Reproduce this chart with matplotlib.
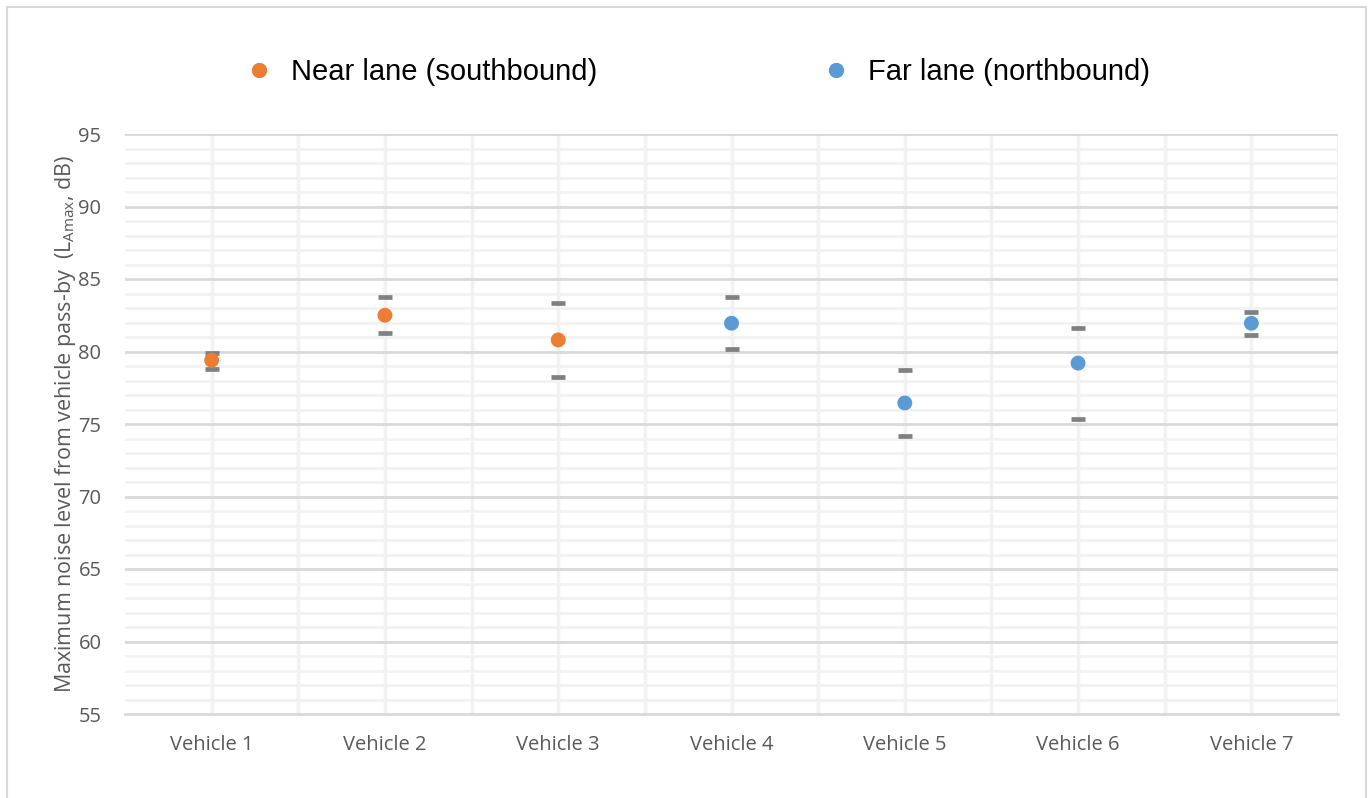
import matplotlib
matplotlib.use("Agg")
import matplotlib.pyplot as plt
from matplotlib.patches import Rectangle
from matplotlib.lines import Line2D
import numpy as np

# Pass-by noise levels (LAmax, dB) per vehicle, with min/max range caps
vehicles = ["Vehicle 1", "Vehicle 2", "Vehicle 3", "Vehicle 4",
            "Vehicle 5", "Vehicle 6", "Vehicle 7"]
lane = ["near", "near", "near", "far", "far", "far", "far"]
mean_level = [79.4, 82.5, 80.8, 81.95, 76.45, 79.2, 81.95]
upper_level = [79.9, 83.75, 83.35, 83.75, 78.75, 81.6, 82.7]
lower_level = [78.8, 81.3, 78.25, 80.15, 74.15, 75.35, 81.15]

legend_labels = ["Near lane (southbound)", "Far lane (northbound)"]
y_ticks = [55, 60, 65, 70, 75, 80, 85, 90, 95]

NEAR_COLOR = "#ED7D31"
FAR_COLOR = "#5B9BD5"
CAP_COLOR = "#808080"
TEXT_GRAY = "#595959"

W, H = 1370, 798
fig = plt.figure(figsize=(W / 100, H / 100), dpi=100)

# outer chart border
fig.patches.append(Rectangle((7 / W, -0.01), (1366 - 7) / W, 1 - 7 / H + 0.01,
                             transform=fig.transFigure, fill=False,
                             edgecolor="#D9D9D9", linewidth=1.5))

ax = fig.add_axes([125 / W, 1 - 714 / H, (1338 - 125) / W, (714 - 134) / H])
x = np.arange(1, len(vehicles) + 1)
ax.set_xlim(0.5, len(vehicles) + 0.5)
ax.set_ylim(55, 95)

# gridlines: minor every 1 dB, major every 5 dB, vertical at centres and boundaries
for v in range(56, 95):
    if v % 5:
        ax.axhline(v, color="#F2F2F2", lw=2, zorder=0)
for v in y_ticks[1:]:
    ax.axhline(v, color="#D9D9D9", lw=2, zorder=0.5)
for xv in np.arange(1.0, len(vehicles) + 0.6, 0.5):
    ax.axvline(xv, color="#F2F2F2", lw=2.5, zorder=0.2)

for s in ["top", "right", "left"]:
    ax.spines[s].set_visible(False)
ax.spines["bottom"].set_color("#D9D9D9")
ax.spines["bottom"].set_linewidth(2)

colors = [NEAR_COLOR if l == "near" else FAR_COLOR for l in lane]

# range caps
ax.scatter(x, upper_level, marker="_", s=115, linewidths=3.4, color=CAP_COLOR, zorder=3)
ax.scatter(x, lower_level, marker="_", s=115, linewidths=3.4, color=CAP_COLOR, zorder=3)
# mean markers
ax.scatter(x, mean_level, s=115, color=colors, zorder=4, edgecolors="none")

ax.set_xticks(x)
ax.set_xticklabels(vehicles)
ax.set_yticks(y_ticks)
ax.tick_params(axis="both", length=0, labelsize=14.5, labelcolor=TEXT_GRAY)
ax.tick_params(axis="x", pad=15)
ax.tick_params(axis="y", pad=17)
for lab in ax.get_xticklabels() + ax.get_yticklabels():
    lab.set_fontfamily("Open Sans")

ax.set_ylabel(r"Maximum noise level from vehicle pass-by  (L$_{\mathregular{Amax}}$, dB)",
              fontsize=15.5, color=TEXT_GRAY, family="Open Sans", labelpad=0)

# legend row across the top
handles = [Line2D([], [], marker="o", ls="none", color=NEAR_COLOR, markersize=10),
           Line2D([], [], marker="o", ls="none", color=FAR_COLOR, markersize=10)]
fig.legend(handles, legend_labels, loc="center", bbox_to_anchor=(690 / W, 1 - 72 / H),
           ncol=2, frameon=False, columnspacing=7.2, handletextpad=0.1,
           prop={"family": "Liberation Sans", "size": 21})

fig.savefig("out.png", dpi=100)
